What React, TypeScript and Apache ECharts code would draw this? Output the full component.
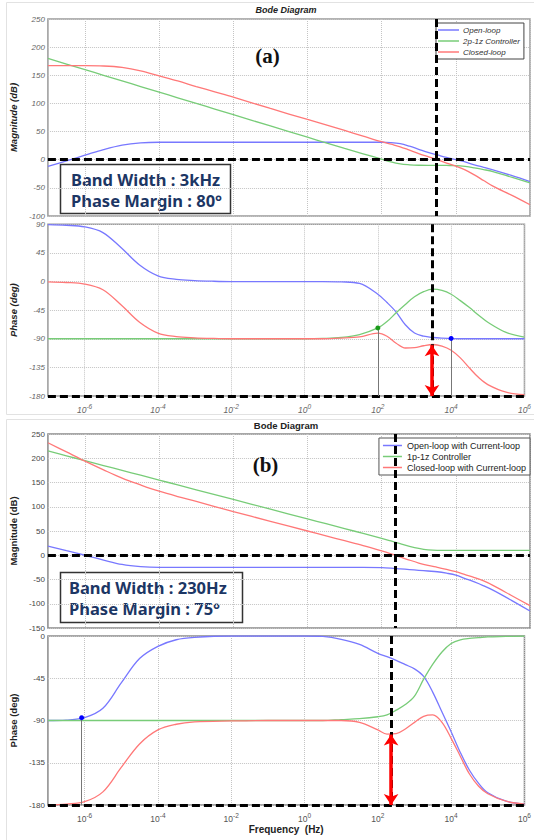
import React, { useEffect, useRef } from 'react';
import * as echarts from 'echarts';

const SANS = '"Liberation Sans", Arial, sans-serif';
const SERIF = '"Liberation Serif", "Times New Roman", serif';

// ---------- (a) data: frequency as log10(Hz) ----------
const expA = [-7, -6.5, -6, -5.5, -5, -4.5, -4, -3.5, -3, -2.5, -2, -1, 0, 0.5, 1, 1.5, 2, 2.25, 2.5, 2.75, 3, 3.25, 3.5, 3.75, 4, 4.25, 4.5, 4.75, 5, 5.5, 6];
const magOpenA = [-12, -2, 8, 18, 26, 30, 31, 31, 31, 31, 31, 31, 31, 31, 31, 31, 31, 30.5, 28.5, 24, 18.5, 13, 8.5, 4, 0, -4, -9, -13.5, -18, -28, -39];
const magCtrlA = [180, 170, 160, 150, 140, 130, 120, 110, 100, 90, 80, 60, 40, 30, 20, 10.5, 1, -4, -7.5, -9, -9.8, -10, -10, -10.2, -10.5, -12, -14.5, -17.5, -21, -31, -41];
const magClosedA = [167, 167, 167, 166.5, 164, 158, 149, 140, 130, 120.5, 111, 91, 71.5, 62, 52, 42, 32, 27.5, 23, 17, 11, 5.5, 0, -6, -11.5, -18, -27, -37, -47, -63, -80];
const phOpenA = [89.5, 88.5, 86, 77, 53, 26, 9, 3.5, 1.5, 0.5, 0, 0, 0, 0, -0.5, -3, -20, -33, -48, -68, -81, -86, -88, -89, -89.5, -90, -90, -90, -90, -90, -90];
const phCtrlA = [-90, -90, -90, -90, -90, -90, -90, -90, -90, -90, -90, -90, -90, -89.5, -88, -83.5, -73, -63, -49, -36, -24, -16, -12, -14, -20, -30, -41, -53, -64, -80, -87.5];
const phClosedA = [-0.5, -1.5, -4, -13, -37, -64, -81, -86.5, -88.5, -89.5, -90, -90, -90, -90, -89, -87, -81, -86, -97, -104.5, -104, -101, -99, -101.5, -108, -120, -136, -151, -162, -174, -178];
const namesA = ['Open-loop', '2p-1z Controller', 'Closed-loop'];

// ---------- (b) data ----------
const expB = [-7, -6.5, -6, -5.5, -5, -4.5, -4, -3.5, -3, -2, -1, 0, 0.5, 1, 1.5, 2, 2.25, 2.5, 2.75, 3, 3.25, 3.5, 3.75, 4, 4.25, 4.5, 4.75, 5, 5.5, 6];
const magOpenB = [19, 9.5, 0, -10, -19, -23.5, -25, -25, -25, -25, -25, -25, -25, -25, -25, -25.5, -26.5, -28, -29.5, -31, -32.5, -34, -37, -41, -48, -55, -63, -72, -93, -115];
const magCtrlB = [215, 205, 195, 185, 175, 165, 155, 145, 135, 115, 95, 75, 65, 55, 45, 35, 29.5, 24, 18.5, 14, 11, 10, 10, 10, 10, 10, 10, 10, 10, 10];
const magClosedB = [232, 213, 194, 176, 159, 145, 132, 121, 111, 90, 70, 50, 40, 30, 20, 9, 3, -3.5, -10, -16, -21, -25, -29, -34, -40, -46, -53, -62, -83, -104];
const phOpenB = [-90, -89.5, -87, -77, -50, -24, -11, -4, -1.5, 0, 0, 0, -0.5, -3.5, -9, -18.5, -22, -26, -30.5, -35, -43, -60, -81, -102, -124, -143, -157, -167, -176, -179];
const phCtrlB = [-90, -90, -90, -90, -90, -90, -90, -90, -90, -90, -90, -90, -90, -89, -88, -86, -84, -79, -73, -64, -46, -30, -17, -8, -4, -2.5, -1.8, -1, -0.5, 0];
const phClosedB = [-180, -179, -176.5, -166, -140, -115, -100, -94, -91.5, -90.5, -90, -90, -90, -90, -92, -100, -104.5, -104, -99, -92, -85.5, -84, -92, -109, -128, -147, -160, -168, -176, -179];
const namesB = ['Open-loop with Current-loop', '1p-1z Controller', 'Closed-loop with Current-loop'];

// ---------- annotations ----------
const bandwidthHz = [3000, 230];
const phaseMarginDeg = [80, 75];
const tipExpA = [2, 4];
const tipPhaseA = [-73, -89.5];
const tipExpB = [-6.08];
const tipPhaseB = [-87];
const bwLabels = ['Band Width : 3kHz', 'Band Width : 230Hz'];
const pmLabels = ['Phase Margin : 80°', 'Phase Margin : 75°'];

const BLUE = '#7878ff';
const GREEN = '#78cc78';
const RED = '#ff7878';

const dashStyle = { color: '#000', width: 3, type: [8, 4] as any };
const grayStyle = { color: '#777', width: 1, type: 'solid' as any };

function pairs(xs: number[], ys: number[]) {
  return xs.map((x, i) => [x, ys[i]]);
}

function xAxisCfg(gridIndex: number, showLabels: boolean, italic: boolean, color: string, name?: string) {
  return {
    type: 'value',
    gridIndex,
    min: -7,
    max: 6,
    interval: 1,
    axisLine: { show: false },
    axisTick: { show: false },
    splitLine: { show: true, lineStyle: { color: ['transparent', '#c4c4c4'], type: 'dotted', width: 1 } },
    axisLabel: {
      show: showLabels,
      margin: 7,
      formatter: (v: number) => {
        const r = Math.round(v);
        return Math.abs(r) % 2 === 0 ? `{b|10}{s|${r}}` : '';
      },
      rich: {
        b: { fontSize: 8.5, fontFamily: SANS, color, fontStyle: italic ? 'italic' : 'normal' },
        s: { fontSize: 6.5, fontFamily: SANS, color, fontStyle: italic ? 'italic' : 'normal', padding: [0, 0, 6, 0] },
      },
    },
    name: name || '',
    nameLocation: 'middle',
    nameGap: 19,
    nameTextStyle: { fontFamily: SANS, fontWeight: 'bold', fontSize: 10, color: '#222' },
  };
}

function yAxisCfg(gridIndex: number, min: number, max: number, interval: number, name: string, italic: boolean, color: string, nameGap: number) {
  return {
    type: 'value',
    gridIndex,
    min,
    max,
    interval,
    axisLine: { show: false },
    axisTick: { show: false },
    splitLine: { show: true, lineStyle: { color: '#c4c4c4', type: 'dotted', width: 1 } },
    axisLabel: {
      fontSize: 8,
      margin: 3,
      color,
      fontFamily: SANS,
      fontStyle: italic ? 'italic' : 'normal',
    },
    name,
    nameLocation: 'middle',
    nameGap,
    nameTextStyle: {
      fontFamily: SANS,
      fontWeight: 'bold',
      fontStyle: italic ? 'italic' : 'normal',
      fontSize: 9.5,
      color: '#222',
    },
  };
}

function lineSeries(name: string, idx: number, xs: number[], ys: number[], color: string, extra: any = {}) {
  return {
    type: 'line',
    name,
    xAxisIndex: idx,
    yAxisIndex: idx,
    data: pairs(xs, ys),
    showSymbol: false,
    smooth: 0.35,
    lineStyle: { color, width: 1.3 },
    itemStyle: { color },
    emphasis: { disabled: true },
    ...extra,
  };
}

function App() {
  const ref = useRef<HTMLDivElement>(null);

  useEffect(() => {
    if (!ref.current) return;
    const chart = echarts.init(ref.current, undefined, { renderer: 'svg' });

    const bwA = Math.log10(bandwidthHz[0]);
    const bwB = Math.log10(bandwidthHz[1]);
    const pmEndA = -180 + phaseMarginDeg[0];
    const pmEndB = -180 + phaseMarginDeg[1];

    const vLine = (x: number, y0: number, y1: number) => [{ coord: [x, y0] }, { coord: [x, y1] }];

    const dashMark = (items: any[]) => ({
      silent: true,
      symbol: 'none',
      label: { show: false },
      lineStyle: dashStyle,
      data: items,
    });

    const arrowMark = (x: number, yEnd: number, extraLines: any[]) => ({
      silent: true,
      symbol: ['arrow', 'arrow'],
      symbolSize: 11,
      label: { show: false },
      data: [
        [
          { coord: [x, -180], lineStyle: { color: '#ff0000', width: 3.5, type: 'solid' } },
          { coord: [x, yEnd] },
        ],
        ...extraLines,
      ],
    });

    const grayLine = (x: number, y: number) => [
      { coord: [x, y], symbol: 'none', lineStyle: grayStyle },
      { coord: [x, -180], symbol: 'none' },
    ];

    const boxFont = '"Noto Sans", sans-serif';

    const option: any = {
      animation: false,
      backgroundColor: '#fff',
      grid: [
        { left: 42.5, top: 19, width: 487.5, height: 197, show: true, borderColor: '#9a9a9a', borderWidth: 1.5, backgroundColor: '#fff' },
        { left: 42.5, top: 224.3, width: 487.5, height: 171.7, show: true, borderColor: '#9a9a9a', borderWidth: 1.5, backgroundColor: '#fff' },
        { left: 45.8, top: 434, width: 484.2, height: 194, show: true, borderColor: '#8a8a8a', borderWidth: 1.5, backgroundColor: '#fff' },
        { left: 45.8, top: 636, width: 484.2, height: 169, show: true, borderColor: '#8a8a8a', borderWidth: 1.5, backgroundColor: '#fff' },
      ],
      xAxis: [
        xAxisCfg(0, false, true, '#666'),
        xAxisCfg(1, true, true, '#666'),
        xAxisCfg(2, false, false, '#555'),
        xAxisCfg(3, true, false, '#555', 'Frequency  (Hz)'),
      ],
      yAxis: [
        yAxisCfg(0, -100, 250, 50, 'Magnitude (dB)', true, '#666', 23),
        yAxisCfg(1, -180, 90, 45, 'Phase (deg)', true, '#666', 23),
        yAxisCfg(2, -150, 250, 50, 'Magnitude (dB)', false, '#444', 26),
        yAxisCfg(3, -180, 0, 45, 'Phase (deg)', false, '#444', 26),
      ],
      legend: [
        {
          data: namesA,
          left: 436,
          top: 23,
          orient: 'vertical',
          icon: 'rect',
          itemWidth: 21,
          itemHeight: 1.5,
          itemGap: 3,
          padding: [3, 4, 3, 2],
          borderColor: '#444',
          borderWidth: 1,
          borderRadius: 0,
          backgroundColor: '#fff',
          selectedMode: false,
          textStyle: { fontFamily: SANS, fontSize: 8, fontStyle: 'italic', color: '#333', padding: [0, 0, 0, -1] },
        },
        {
          data: namesB,
          right: 4,
          top: 438,
          orient: 'vertical',
          icon: 'rect',
          itemWidth: 19,
          itemHeight: 1.5,
          itemGap: 2,
          padding: [3, 4, 3, 4],
          borderColor: '#555',
          borderWidth: 1,
          borderRadius: 0,
          backgroundColor: '#fff',
          selectedMode: false,
          textStyle: { fontFamily: SANS, fontSize: 9, color: '#222' },
        },
      ],
      series: [
        // (a) magnitude
        lineSeries(namesA[0], 0, expA, magOpenA, BLUE, { markLine: dashMark([{ yAxis: 0 }, vLine(bwA, 250, -100)]) }),
        lineSeries(namesA[1], 0, expA, magCtrlA, GREEN),
        lineSeries(namesA[2], 0, expA, magClosedA, RED),
        // (a) phase
        lineSeries(namesA[0], 1, expA, phOpenA, BLUE, {
          markLine: dashMark([{ yAxis: -180 }, vLine(bwA, 90, -180)]),
          markPoint: {
            silent: true,
            symbol: 'circle',
            symbolSize: 5,
            label: { show: false },
            itemStyle: { color: '#0000ff' },
            data: [{ coord: [tipExpA[1], tipPhaseA[1]] }],
          },
        }),
        lineSeries(namesA[1], 1, expA, phCtrlA, GREEN, {
          markPoint: {
            silent: true,
            symbol: 'circle',
            symbolSize: 5,
            label: { show: false },
            itemStyle: { color: '#1a9a1a' },
            data: [{ coord: [tipExpA[0], tipPhaseA[0]] }],
          },
        }),
        lineSeries(namesA[2], 1, expA, phClosedA, RED, {
          markLine: arrowMark(bwA, pmEndA, [grayLine(tipExpA[0], tipPhaseA[0]), grayLine(tipExpA[1], tipPhaseA[1])]),
        }),
        // (b) magnitude
        lineSeries(namesB[0], 2, expB, magOpenB, BLUE, { markLine: dashMark([{ yAxis: 0 }, vLine(bwB, 250, -150)]) }),
        lineSeries(namesB[1], 2, expB, magCtrlB, GREEN),
        lineSeries(namesB[2], 2, expB, magClosedB, RED),
        // (b) phase
        lineSeries(namesB[0], 3, expB, phOpenB, BLUE, {
          markLine: dashMark([{ yAxis: -180 }, vLine(bwB, 0, -180)]),
          markPoint: {
            silent: true,
            symbol: 'circle',
            symbolSize: 5,
            label: { show: false },
            itemStyle: { color: '#0000ff' },
            data: [{ coord: [tipExpB[0], tipPhaseB[0]] }],
          },
        }),
        lineSeries(namesB[1], 3, expB, phCtrlB, GREEN),
        lineSeries(namesB[2], 3, expB, phClosedB, RED, {
          markLine: arrowMark(bwB, pmEndB, [grayLine(tipExpB[0], tipPhaseB[0])]),
        }),
      ],
      graphic: [
        { type: 'rect', shape: { x: 6.5, y: 2.5, width: 540, height: 412 }, style: { fill: 'none', stroke: '#e2e2e2', lineWidth: 1 }, silent: true, z: -10 },
        { type: 'rect', shape: { x: 6.5, y: 419.5, width: 540, height: 430 }, style: { fill: 'none', stroke: '#e2e2e2', lineWidth: 1 }, silent: true, z: -10 },
        { type: 'text', x: 286, y: 10, style: { text: 'Bode Diagram', textAlign: 'center', textVerticalAlign: 'middle', fontFamily: SANS, fontSize: 9, fontWeight: 'bold', fontStyle: 'italic', fill: '#222' } },
        { type: 'text', x: 286, y: 425.5, style: { text: 'Bode Diagram', textAlign: 'center', textVerticalAlign: 'middle', fontFamily: SANS, fontSize: 9.5, fontWeight: 'bold', fill: '#222' } },
        { type: 'text', x: 267.5, y: 56, z: 10, style: { text: '(a)', textAlign: 'center', textVerticalAlign: 'middle', fontFamily: SERIF, fontSize: 21, fontWeight: 'bold', fill: '#111' } },
        { type: 'text', x: 265.5, y: 465, z: 10, style: { text: '(b)', textAlign: 'center', textVerticalAlign: 'middle', fontFamily: SERIF, fontSize: 21, fontWeight: 'bold', fill: '#111' } },
        {
          type: 'group',
          z: 20,
          children: [
            { type: 'rect', shape: { x: 60.5, y: 164.5, width: 170, height: 49 }, style: { fill: '#fff', stroke: '#333', lineWidth: 1.5 } },
            { type: 'text', x: 71, y: 179.5, style: { text: bwLabels[0], textVerticalAlign: 'middle', fontFamily: boxFont, fontSize: 16.5, fontWeight: 'bold', fill: '#1c3664' } },
            { type: 'text', x: 71, y: 200.5, style: { text: pmLabels[0], textVerticalAlign: 'middle', fontFamily: boxFont, fontSize: 16.5, fontWeight: 'bold', fill: '#1c3664' } },
          ],
        },
        {
          type: 'group',
          z: 20,
          children: [
            { type: 'rect', shape: { x: 60.5, y: 572.5, width: 182, height: 50 }, style: { fill: '#fff', stroke: '#333', lineWidth: 1.5 } },
            { type: 'text', x: 69, y: 587.5, style: { text: bwLabels[1], textVerticalAlign: 'middle', fontFamily: boxFont, fontSize: 16.5, fontWeight: 'bold', fill: '#1c3664' } },
            { type: 'text', x: 69, y: 608.5, style: { text: pmLabels[1], textVerticalAlign: 'middle', fontFamily: boxFont, fontSize: 16.5, fontWeight: 'bold', fill: '#1c3664' } },
          ],
        },
      ],
    };

    chart.setOption(option);
    return () => chart.dispose();
  }, []);

  return (
    <div
      ref={ref}
      style={{ position: 'fixed', left: 0, top: 0, width: 534, height: 840, background: '#fff' }}
    />
  );
}

export default App;
